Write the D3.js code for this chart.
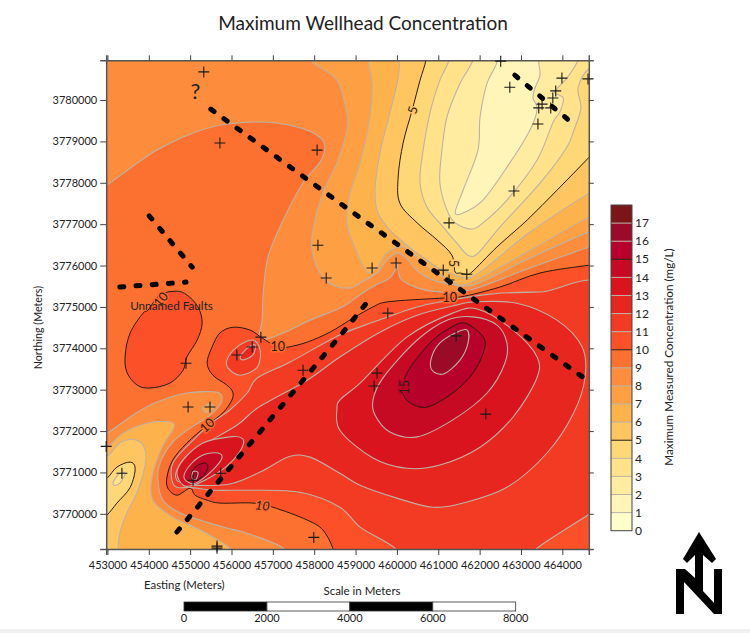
<!DOCTYPE html>
<html><head><meta charset="utf-8">
<script src="https://d3js.org/d3.v7.min.js"></script>
<style>
html,body{margin:0;padding:0;background:#fff;overflow:hidden}
svg{display:block}
text{font-family:Lato,"Open Sans",sans-serif;fill:#222}
</style></head><body><svg id="c" width="750" height="633"></svg>
<script>
// All coordinates below: [easting km, northing km]
const eastingTicks=[453000,454000,455000,456000,457000,458000,459000,460000,461000,462000,463000,464000];
const northingTicks=[3770000,3771000,3772000,3773000,3774000,3775000,3776000,3777000,3778000,3779000,3780000];
const legendLevels=[0,1,2,3,4,5,6,7,8,9,10,11,12,13,14,15,16,17];
const bandColors=["#FFFFCC","#FFF5B8","#FFECA0","#FFE28A","#FED876","#FEC561","#FEB24C","#FE9F44","#FD8D3C","#FD7130","#FC5128","#F33B24","#E7261F","#DA141E","#C60A24","#B7012A","#9B0A26","#7C1518"];
const scaleTicks=[0,2000,4000,6000,8000];

const rise9=[[452.82,3777.92],[452.99,3777.95],[454.20,3778.79],[455.41,3779.32],[456.62,3779.47],[457.59,3779.35],[458.14,3779.10],[458.26,3778.86],[458.14,3778.50],[457.73,3778.00],[457.25,3777.10],[456.88,3776.20],[456.76,3775.24],[456.74,3774.68],[456.66,3774.25],[456.76,3774.20],[457.25,3774.37],[457.90,3774.68],[458.62,3774.97],[458.94,3775.17],[459.28,3775.41],[459.59,3775.58],[459.83,3775.70],[459.98,3775.94],[460.00,3776.06],[460.03,3775.89],[460.10,3775.67],[460.49,3775.46],[461.04,3775.36],[461.77,3775.41],[463.22,3775.94],[464.65,3776.45],[465.15,3776.62],[465.15,3768.88],[457.25,3768.88],[457.25,3769.17],[456.38,3769.53],[455.80,3769.68],[454.76,3770.02],[454.34,3770.33],[454.22,3770.81],[454.27,3771.22],[454.56,3771.71],[455.00,3772.07],[455.43,3772.34],[455.72,3772.63],[455.77,3772.82],[455.65,3772.94],[454.92,3772.92],[454.20,3772.70],[453.62,3772.39],[452.99,3771.95],[452.82,3771.95]];
const rise10=[[465.15,3776.08],[464.65,3776.01],[463.46,3775.82],[462.49,3775.48],[461.53,3775.24],[461.04,3775.21],[459.76,3775.12],[459.42,3775.00],[458.94,3774.73],[458.38,3774.39],[457.83,3774.15],[457.37,3774.03],[457.12,3774.03],[456.74,3774.25],[456.45,3774.44],[456.04,3774.51],[455.72,3774.37],[455.53,3774.03],[455.41,3773.64],[455.55,3773.35],[455.89,3773.11],[456.03,3772.94],[456.01,3772.75],[455.79,3772.44],[455.41,3772.14],[454.92,3771.71],[454.58,3771.30],[454.44,3770.89],[454.46,3770.62],[454.68,3770.45],[455.00,3770.62],[455.12,3770.45],[455.41,3770.33],[455.72,3770.26],[456.52,3770.26],[457.00,3770.16],[457.83,3769.85],[458.21,3769.61],[458.45,3769.17],[458.50,3768.88],[465.15,3768.88]];
const rise10West=[[454.68,3775.38],[454.27,3775.29],[453.98,3774.92],[453.86,3774.85],[453.55,3774.37],[453.43,3773.84],[453.47,3773.42],[453.72,3773.11],[454.03,3773.04],[454.51,3773.16],[454.83,3773.47],[454.92,3773.79],[455.17,3774.20],[455.29,3774.61],[455.19,3775.00],[454.92,3775.29]];
const rise11=[[465.15,3775.36],[463.46,3775.36],[462.25,3775.31],[461.04,3775.12],[460.49,3775.00],[459.42,3774.63],[458.62,3774.32],[457.42,3773.67],[456.62,3773.28],[456.38,3772.92],[455.96,3772.51],[455.55,3772.22],[455.00,3771.71],[454.58,3771.22],[454.56,3770.81],[454.68,3770.64],[455.00,3770.64],[455.60,3770.57],[456.45,3770.57],[457.66,3770.52],[458.62,3770.16],[459.11,3769.68],[459.95,3769.17],[460.02,3768.88],[463.22,3768.88],[463.39,3769.17],[464.62,3769.97],[465.15,3770.33]];
const rise11Small=[[455.89,3773.72],[456.13,3774.03],[456.52,3774.20],[456.69,3773.96],[456.62,3773.54],[456.21,3773.35],[455.92,3773.52]];
const rise12=[[462.90,3775.09],[463.87,3774.68],[464.48,3774.03],[464.55,3773.30],[464.27,3772.43],[463.63,3771.47],[462.66,3770.64],[461.60,3770.26],[460.87,3770.16],[460.00,3770.38],[459.11,3770.69],[458.62,3770.98],[457.90,3771.37],[457.42,3771.39],[456.69,3771.01],[455.96,3770.72],[455.07,3770.69],[454.92,3770.72],[454.68,3770.81],[454.68,3771.06],[455.00,3771.47],[456.13,3772.14],[456.62,3772.55],[457.83,3773.23],[458.62,3773.79],[459.59,3774.39],[460.49,3774.80],[461.46,3775.05],[461.84,3775.12]];
const rise12Small=[[456.21,3773.79],[456.38,3774.00],[456.57,3774.08],[456.52,3773.84],[456.28,3773.72]];
const rise13East=[[458.55,3772.54],[458.62,3772.75],[459.11,3773.16],[460.24,3774.27],[461.35,3774.85],[461.94,3774.95],[462.81,3774.44],[463.39,3773.79],[463.39,3773.30],[462.81,3772.34],[462.01,3771.61],[461.04,3771.18],[460.24,3771.10],[459.42,3771.35],[458.62,3772.02]];
const rise13West=[[456.25,3771.83],[456.28,3771.66],[456.04,3771.30],[455.65,3770.98],[455.07,3770.69],[454.83,3770.69],[454.68,3770.98],[454.83,3771.30],[455.31,3771.71],[455.96,3771.86]];
const rise14East=[[461.84,3774.76],[462.42,3774.56],[462.66,3774.13],[462.61,3773.64],[462.18,3772.92],[461.35,3772.27],[460.49,3771.86],[459.83,3771.98],[459.47,3772.39],[459.42,3772.75],[459.66,3773.28],[460.49,3774.20],[461.21,3774.68]];
const rise14West=[[455.67,3771.47],[455.77,3771.35],[455.55,3771.06],[455.17,3770.76],[455.00,3770.74],[454.85,3770.89],[455.00,3771.18],[455.31,3771.42]];
const rise15East=[[461.65,3774.61],[462.09,3774.27],[462.11,3773.96],[461.84,3773.40],[461.35,3772.92],[460.73,3772.58],[460.32,3772.68],[460.15,3772.92],[460.24,3773.40],[460.80,3774.13],[461.28,3774.49]];
const rise15West=[[455.36,3771.23],[455.43,3771.11],[455.29,3770.89],[455.07,3770.81],[455.02,3770.93],[455.12,3771.13]];
const rise16East=[[461.70,3774.44],[461.72,3774.13],[461.53,3773.72],[461.12,3773.38],[460.85,3773.47],[460.83,3773.76],[461.04,3774.13],[461.45,3774.39]];
const rise16West=[[455.07,3771.02],[455.19,3771.00],[455.14,3770.83],[455.05,3770.86]];

const fall8Top=[[457.78,3781.45],[457.90,3780.97],[458.55,3780.48],[458.79,3779.69],[458.79,3779.27],[458.55,3778.48],[458.21,3777.75],[457.97,3776.86],[457.95,3776.37],[458.14,3775.82],[458.45,3775.53],[458.87,3775.46],[459.11,3775.58],[459.52,3775.82],[459.76,3776.13],[460.00,3776.30],[460.20,3776.20],[460.37,3776.01],[460.56,3775.82],[460.87,3775.65],[461.28,3775.55],[461.84,3775.53],[463.22,3776.18],[464.65,3776.81],[465.40,3776.98],[465.40,3781.45]];
const fall8Loop=[[455.31,3772.55],[455.46,3772.65],[455.58,3772.58],[455.48,3772.48],[455.36,3772.46]];
const fall7Top=[[459.30,3781.45],[459.30,3780.97],[459.40,3780.41],[459.35,3779.59],[459.11,3778.48],[458.87,3777.75],[458.79,3777.03],[459.04,3776.30],[459.30,3775.84],[459.52,3775.96],[459.71,3776.25],[459.95,3776.42],[460.15,3776.45],[460.37,3776.30],[460.63,3776.06],[460.97,3775.82],[461.28,3775.65],[461.69,3775.55],[463.22,3776.37],[464.65,3777.17],[465.40,3777.46],[465.40,3781.45]];
const fall7West=[[452.70,3771.61],[452.99,3771.61],[453.38,3771.95],[453.96,3772.19],[454.51,3772.22],[454.61,3772.10],[454.32,3771.61],[454.08,3770.89],[454.10,3770.33],[454.58,3769.92],[455.24,3769.61],[455.96,3769.17],[456.08,3768.88],[452.70,3768.88]];
const fall6Top=[[460.07,3781.45],[460.07,3780.97],[460.02,3780.48],[459.83,3779.69],[459.59,3778.72],[459.47,3777.82],[459.54,3777.27],[459.83,3776.86],[460.24,3776.49],[460.56,3776.25],[460.97,3775.96],[461.28,3775.82],[461.65,3775.70],[462.01,3775.84],[463.22,3776.81],[464.65,3777.75],[465.40,3778.19],[465.40,3781.45]];
const fall6West=[[452.70,3771.39],[452.99,3771.39],[453.30,3771.71],[453.62,3771.80],[453.86,3771.66],[453.93,3771.30],[453.74,3770.57],[453.47,3770.02],[453.30,3769.53],[453.26,3769.17],[453.26,3768.88],[452.70,3768.88]];
const fall5Top=[[460.70,3781.45],[460.70,3780.97],[460.56,3780.48],[460.37,3779.76],[460.15,3778.96],[460.03,3778.14],[460.07,3777.51],[460.49,3777.03],[460.97,3776.62],[461.33,3776.25],[461.41,3775.84],[461.53,3775.82],[461.69,3775.79],[461.81,3775.84],[462.42,3776.45],[463.15,3777.10],[463.87,3777.82],[464.65,3778.62],[465.40,3779.40],[465.40,3781.45]];
const fall5West=[[452.70,3770.69],[452.99,3770.86],[453.23,3771.13],[453.55,3771.25],[453.67,3771.11],[453.55,3770.64],[453.23,3770.26],[452.99,3769.97],[452.70,3769.73]];
const fall4Top=[[461.26,3781.45],[461.26,3780.97],[461.04,3780.48],[460.80,3779.69],[460.61,3778.62],[460.56,3777.99],[460.73,3777.41],[461.12,3776.93],[461.45,3776.54],[461.72,3776.25],[461.94,3776.28],[462.49,3776.93],[463.46,3777.99],[464.11,3778.86],[464.28,3779.27],[464.45,3779.81],[464.38,3780.29],[464.65,3780.77],[465.40,3781.21],[465.40,3781.45]];
const fall4West=[[453.14,3770.77],[453.30,3770.98],[453.43,3770.98],[453.30,3770.74],[453.16,3770.69]];
const fall3Top=[[461.84,3781.45],[461.84,3780.97],[461.53,3780.41],[461.21,3779.59],[461.07,3778.62],[461.04,3777.99],[461.21,3777.34],[461.41,3777.03],[461.81,3776.88],[462.08,3777.03],[462.66,3777.58],[463.39,3778.55],[463.78,3779.47],[463.94,3779.71],[464.02,3780.05],[463.82,3780.19],[464.11,3780.53],[464.36,3780.92],[464.55,3781.45]];
const fall2Top=[[462.42,3781.45],[462.42,3780.92],[462.18,3780.41],[462.01,3779.59],[461.96,3778.79],[461.60,3777.82],[461.41,3777.27],[461.60,3777.27],[462.08,3777.58],[462.73,3778.48],[463.15,3779.15],[463.34,3779.56],[463.39,3779.83],[463.29,3780.05],[463.34,3780.29],[463.46,3780.60],[463.43,3780.92],[463.41,3781.45]];

const wells=[[455.33,3780.68],[455.72,3778.96],[458.07,3778.79],[458.09,3776.49],[458.29,3775.70],[459.40,3775.94],[459.98,3776.06],[461.12,3775.89],[461.26,3775.65],[461.69,3775.79],[461.26,3777.03],[462.83,3777.80],[463.41,3779.42],[462.73,3780.31],[462.51,3780.94],[463.99,3780.53],[464.62,3780.51],[463.84,3780.22],[463.77,3780.05],[463.51,3779.90],[463.43,3779.81],[463.72,3779.81],[454.90,3773.64],[454.95,3772.58],[455.48,3772.58],[456.13,3773.84],[456.50,3774.03],[456.71,3774.27],[457.73,3773.47],[452.97,3771.63],[453.35,3770.98],[455.07,3770.81],[455.74,3770.98],[455.65,3769.22],[455.65,3769.17],[457.99,3769.43],[459.78,3774.85],[459.52,3773.40],[459.45,3773.09],[461.43,3774.30],[462.15,3772.41]];

const faultNW=[[455.50,3779.78],[458.70,3777.45],[464.50,3773.30]];
const faultNE=[[462.85,3780.60],[464.35,3779.35]];
const faultSW=[[454.68,3769.56],[455.67,3770.76],[458.70,3774.39],[459.42,3775.29]];
const faultW1=[[454.01,3777.20],[455.05,3775.96]];
const faultW2=[[453.30,3775.48],[454.90,3775.60]];

const contourLabels=[
 {t:"5",e:460.38,n:3779.76,r:-72},
 {t:"5",e:461.36,n:3776.05,r:90},
 {t:"10",e:457.12,n:3774.03,r:0},
 {t:"10",e:455.41,n:3772.14,r:-42},
 {t:"10",e:456.75,n:3770.20,r:6,i:1},
 {t:"10",e:461.28,n:3775.22,r:0},
 {t:"15",e:460.18,n:3773.06,r:-90},
 {t:"10",e:454.29,n:3775.18,r:-50}];

const xMin=452970,xMax=464640,yMin=3769150,yMax=3780960;
const x=d3.scaleLinear().domain([xMin,xMax]).range([106.2,588.8]);
const y=d3.scaleLinear().domain([yMin,yMax]).range([549,60.3]);
const svg=d3.select("#c");
svg.append("rect").attr("x",0).attr("y",629).attr("width",750).attr("height",4).attr("fill","#f0f0f0");
svg.append("defs").append("clipPath").attr("id","pc").append("rect")
 .attr("x",x(xMin)).attr("y",y(yMax)).attr("width",x(xMax)-x(xMin)).attr("height",y(yMin)-y(yMax));
const plot=svg.append("g").attr("clip-path","url(#pc)");
plot.append("rect").attr("x",x(xMin)).attr("y",y(yMax)).attr("width",x(xMax)-x(xMin)).attr("height",y(yMin)-y(yMax)).attr("fill",bandColors[8]);

const poly=d3.line().x(d=>x(d[0]*1000)).y(d=>y(d[1]*1000)).curve(d3.curveCatmullRomClosed.alpha(0.15));
const lineColor=l=>l%5===0?"#2a1a10":"#bdb2a6";
const order=[
 [8,7,fall8Top],[8,7,fall8Loop],[7,6,fall7Top],[7,6,fall7West],[6,5,fall6Top],[6,5,fall6West],
 [5,4,fall5Top],[5,4,fall5West],[4,3,fall4Top],[4,3,fall4West],[3,2,fall3Top],[2,1,fall2Top],
 [9,9,rise9],[10,10,rise10],[10,10,rise10West],[11,11,rise11],[11,11,rise11Small],[12,12,rise12],[12,12,rise12Small],
 [13,13,rise13East],[13,13,rise13West],[14,14,rise14East],[14,14,rise14West],[15,15,rise15East],[15,15,rise15West],[16,16,rise16East],[16,16,rise16West]];
plot.selectAll("path.iso").data(order).join("path").attr("class","iso")
 .attr("d",d=>poly(d[2])).attr("fill",d=>bandColors[d[1]])
 .attr("stroke",d=>lineColor(d[0])).attr("stroke-width",d=>d[0]%5===0?1:1.1);

// contour labels with a halo in the band colour
plot.selectAll("text.cl").data(contourLabels).join("text").attr("class","cl")
 .attr("transform",d=>`translate(${x(d.e*1000)},${y(d.n*1000)}) rotate(${d.r})`)
 .attr("text-anchor","middle").attr("dy","0.35em").attr("font-size",12.5)
 .attr("font-style",d=>d.i?"italic":null)
 .style("fill","#2a1a10")
 .style("stroke",d=>d.t==="5"?bandColors[5]:d.t==="15"?bandColors[15]:"#FD6A2E").style("stroke-width",3).style("paint-order","stroke")
 .text(d=>d.t);

// faults
const open=d3.line().x(d=>x(d[0]*1000)).y(d=>y(d[1]*1000));
plot.selectAll("path.fault").data([faultNW,faultNE,faultSW,faultW1,faultW2]).join("path").attr("class","fault")
 .attr("d",open).attr("fill","none").attr("stroke","#000").attr("stroke-width",5)
 .attr("stroke-linecap","round").attr("stroke-dasharray","4 12.2");

// axes
const bottom=d3.axisBottom(x).tickValues(eastingTicks).tickFormat(d3.format("d")).tickSize(6).tickPadding(6);
const left=d3.axisLeft(y).tickValues(northingTicks).tickFormat(d3.format("d")).tickSize(6).tickPadding(3);
const top_=d3.axisTop(x).tickValues(eastingTicks).tickFormat("").tickSize(5);
const right=d3.axisRight(y).tickValues(northingTicks).tickFormat("").tickSize(5);
const ax=(a,t)=>{const s=svg.append("g").attr("transform",t).call(a);
 s.selectAll(".domain").attr("stroke","#555").attr("stroke-width",1.5);
 s.selectAll(".tick line").attr("stroke","#444").attr("stroke-width",1);
 s.selectAll(".tick text").attr("font-size",11).style("fill","#222");s.attr("font-family",null);return s;};
ax(bottom,`translate(0,${y(yMin)})`);ax(left,`translate(${x(xMin)},0)`);
ax(top_,`translate(0,${y(yMax)})`);ax(right,`translate(${x(xMax)},0)`);

// wells
const armH=5.5;
const wg=svg.append("g");
wg.selectAll("path").data(wells).join("path")
 .attr("d",d=>{const p=d3.path(),a=x(d[0]*1000),b=y(d[1]*1000);p.moveTo(a-armH,b);p.lineTo(a+armH,b);p.moveTo(a,b-armH);p.lineTo(a,b+armH);return p;})
 .attr("stroke","#1a1a1a").attr("stroke-width",1.1).attr("fill","none");

// annotations
svg.append("text").attr("x",x(455130)).attr("y",y(3780020)).attr("font-size",22).attr("text-anchor","middle").text("?");
svg.append("text").attr("x",x(453550)).attr("y",y(3774930)).attr("font-size",11.7).text("Unnamed Faults");
svg.append("text").attr("x",363).attr("y",30).attr("text-anchor","middle").attr("font-size",19).text("Maximum Wellhead Concentration");
svg.append("text").attr("transform",`translate(42,${y(3774500)}) rotate(-90)`).attr("text-anchor","middle").attr("font-size",10.7).text("Northing (Meters)");
svg.append("text").attr("x",144).attr("y",589).attr("font-size",11.4).text("Easting (Meters)");
svg.append("text").attr("x",362).attr("y",595).attr("text-anchor","middle").attr("font-size",11.5).text("Scale in Meters");

// legend
const lg=d3.scaleLinear().domain([0,18]).range([530.7,205]);
const lgX=611,lgW=21;
svg.selectAll("rect.lb").data(bandColors).join("rect").attr("class","lb")
 .attr("x",lgX).attr("width",lgW).attr("y",(d,i)=>lg(i+1)).attr("height",(d,i)=>lg(i)-lg(i+1)).attr("fill",d=>d);
svg.selectAll("line.ll").data(legendLevels.slice(1)).join("line").attr("class","ll")
 .attr("x1",lgX).attr("x2",lgX+lgW).attr("y1",d=>lg(d)).attr("y2",d=>lg(d))
 .attr("stroke",d=>d%5===0?"#2a1a10":"#bdb2a6").attr("stroke-width",1);
svg.append("rect").attr("x",lgX).attr("y",lg(18)).attr("width",lgW).attr("height",lg(0)-lg(18)).attr("fill","none").attr("stroke","#444").attr("stroke-width",1);
svg.selectAll("text.lt").data(legendLevels).join("text").attr("class","lt")
 .attr("x",lgX+24).attr("y",d=>lg(d)).attr("dy","0.35em").attr("font-size",12).text(d=>d);
svg.append("text").attr("transform","translate(673,357) rotate(-90)").attr("text-anchor","middle").attr("font-size",11.7).text("Maximum Measured Concentration (mg/L)");

// scale bar
const sb=d3.scaleLinear().domain([0,8000]).range([184,515.7]);
svg.selectAll("rect.sb").data(scaleTicks.slice(0,-1)).join("rect").attr("class","sb")
 .attr("x",d=>sb(d)).attr("y",602).attr("width",d=>sb(2000)-sb(0)).attr("height",9)
 .attr("fill",(d,i)=>i%2?"#fff":"#000").attr("stroke","#333").attr("stroke-width",.8);
svg.selectAll("text.st").data(scaleTicks).join("text").attr("class","st")
 .attr("x",d=>sb(d)).attr("y",622).attr("text-anchor","middle").attr("font-size",11).text(d=>d);

// north arrow
svg.append("path").attr("fill","#000")
 .attr("d","M676,614L684,614L684,582L714,614L722,614L722,569L714,569L714,603L703,591L703,555L712,563L716,559L699,532L683,559L687,563L695,555L695,578L685,569L676,569Z");
</script></body></html>
